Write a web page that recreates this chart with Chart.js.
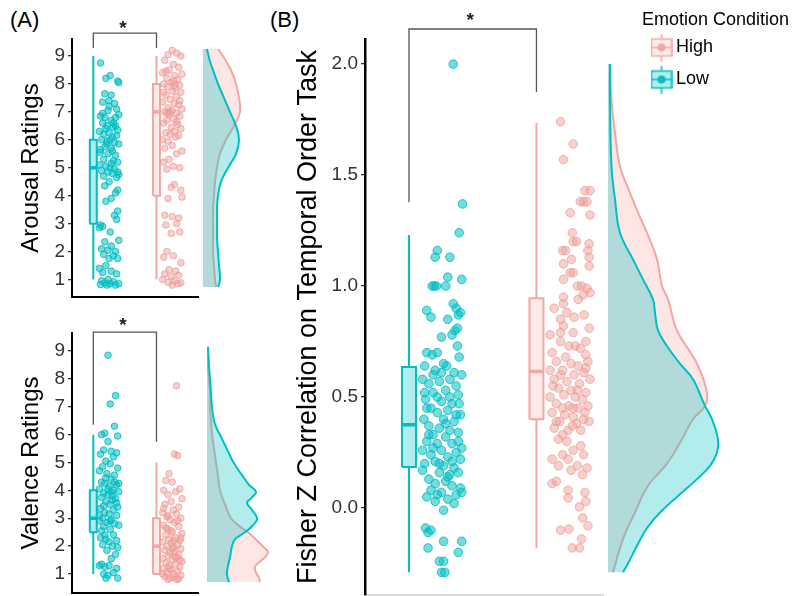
<!DOCTYPE html>
<html>
<head>
<meta charset="utf-8">
<script src="https://cdn.jsdelivr.net/npm/chart.js@4.4.1/dist/chart.umd.min.js"></script>
<style>
  body { margin: 0; background: #fff; width: 811px; height: 596px; position: relative; overflow: hidden;
         font-family: "Liberation Sans", Arial, sans-serif; }
  canvas { position: absolute; }
  .lab { position: absolute; font-size: 22px; line-height: 22px; color: #000; }
</style>
</head>
<body>
<div class="lab" style="left:10px; top:9px">(A)</div>
<div class="lab" style="left:270px; top:9px">(B)</div>
<canvas id="arousal" width="200" height="300" style="left:0; top:0"></canvas>
<canvas id="arousalDens" width="60" height="300" style="left:203px; top:0"></canvas>
<canvas id="valence" width="200" height="296" style="left:0; top:300px"></canvas>
<canvas id="valenceDens" width="70" height="296" style="left:207px; top:300px"></canvas>
<canvas id="fisher" width="335" height="596" style="left:270px; top:0"></canvas>
<canvas id="fisherDens" width="130" height="596" style="left:608px; top:0"></canvas>
<canvas id="legend" width="171" height="130" style="left:640px; top:0"></canvas>
<script>
const groups = ["Low", "High"];
const legendLabels = ["High", "Low"];

const ratingTicks = [1, 2, 3, 4, 5, 6, 7, 8, 9];
const fisherTicks = [0, 0.5, 1.0, 1.5, 2.0];

// box stats: min, q1, median, q3, max
const arousalBoxLow = [1, 3, 5, 6, 9];
const arousalBoxHigh = [1, 4, 7, 8, 9];
const valenceBoxLow = [1, 2.5, 3, 4, 6];
const valenceBoxHigh = [1, 1, 2, 3, 5];
const fisherBoxLow = [-0.29, 0.185, 0.375, 0.635, 1.23];
const fisherBoxHigh = [-0.18, 0.40, 0.615, 0.945, 1.735];

// significance brackets: bar level, left foot, right foot, star level
const arousalSig = [9.82, 9.285, 9.285, 9.97];
const valenceSig = [9.68, 6.35, 5.74, 9.9];
const fisherSig = [2.158, 1.378, 1.874, 2.194];

// jittered points: [jitter 0..1, value]
const arousalLow = [[0.1,8.75],[0.55,8.3],[0.9,8.1],[0.95,8.05],[0.35,8.2],[0.3,7.65],[0.6,7.6],[0.2,7.35],[0.5,7.4],[0.75,7.3],
  [0.45,7.05],[0.85,7.1],[0.95,6.9],[0.1,6.85],[0.3,6.8],[0.6,6.7],[0.8,6.8],[0.2,6.6],[0.4,6.5],[0.7,6.45],[0.9,6.35],[0.05,6.3],
  [0.25,6.2],[0.5,6.25],[0.65,6.1],[0.85,6.15],[0.15,6.0],[0.4,5.95],[0.55,6.0],[0.75,5.9],[0.95,5.85],[0.3,5.75],[0.6,5.7],[0.1,5.55],
  [0.45,5.5],[0.8,5.45],[0.25,5.3],[0.7,5.25],[0.9,5.2],[0.05,5.1],[0.35,5.05],[0.55,5.0],[0.75,4.95],[0.15,4.9],[0.45,4.85],[0.65,4.8],
  [0.95,4.75],[0.25,4.7],[0.85,4.65],[0.5,4.5],[0.3,4.35],[0.9,4.2],[0.8,4.1],[0.6,3.9],[0.35,3.8],[0.9,3.45],[0.75,3.3],[0.85,3.15],
  [0.1,2.95],[0.05,2.85],[0.2,2.9],[0.55,2.7],[0.95,2.4],[0.3,2.35],[0.6,2.2],[0.15,2.1],[0.45,2.05],[0.8,2.0],[0.25,1.9],[0.7,1.85],
  [0.5,1.75],[0.9,1.75],[0.35,1.5],[0.05,1.4],[0.6,1.3],[0.2,1.25],[0.85,1.2],[0.45,1.0],[0.15,0.95],[0.7,0.92],[0.3,0.88],[0.95,0.85],
  [0.55,0.85],[0.1,0.82],[0.8,0.8],[0.4,0.8],[0.2,6.95],[0.7,6.6],[0.4,5.85],[0.6,5.15],[0.1,5.65],[0.8,6.5],[0.5,7.2],[0.35,6.4],
  [0.65,5.6],[0.9,4.85]];
const arousalHigh = [[0.5,9.2],[0.7,9.1],[0.3,9.05],[0.9,9.0],[0.15,8.85],[0.55,8.7],[0.8,8.6],[0.35,8.5],[0.05,8.4],[0.95,8.35],
  [0.6,8.3],[0.25,8.2],[0.75,8.15],[0.45,8.05],[0.1,8.0],[0.85,7.95],[0.3,7.9],[0.65,7.85],[0.5,7.75],[0.9,7.7],[0.2,7.6],[0.7,7.55],
  [0.4,7.45],[0.05,7.35],[0.6,7.3],[0.8,7.25],[0.3,7.15],[0.95,7.1],[0.5,7.05],[0.15,7.0],[0.7,6.95],[0.35,6.9],[0.85,6.85],[0.55,6.75],
  [0.25,6.7],[0.1,6.6],[0.75,6.55],[0.45,6.45],[0.9,6.4],[0.6,6.3],[0.2,6.25],[0.4,6.2],[0.8,6.15],[0.65,6.1],[0.05,6.0],[0.3,5.95],
  [0.5,5.8],[0.15,5.7],[0.95,5.6],[0.7,5.5],[0.35,5.3],[0.1,5.2],[0.55,5.05],[0.85,5.0],[0.25,4.95],[0.6,4.4],[0.45,4.3],[0.9,4.2],
  [0.95,3.95],[0.3,3.9],[0.15,3.3],[0.5,3.25],[0.8,3.2],[0.7,3.0],[0.2,2.95],[0.85,2.7],[0.45,2.65],[0.25,2.0],[0.55,1.85],[0.1,1.8],
  [0.9,1.6],[0.35,1.35],[0.65,1.3],[0.15,1.2],[0.8,1.15],[0.45,1.1],[0.05,1.0],[0.6,0.95],[0.3,0.9],[0.9,0.88],[0.5,0.8],[0.75,0.85],
  [0.2,8.45],[0.6,7.95],[0.85,7.4],[0.4,7.0],[0.1,7.7],[0.7,6.65],[0.55,8.1],[0.25,6.95]];
const valenceLow = [[0.45,8.85],[0.8,7.4],[0.55,7.1],[0.75,6.3],[0.3,6.05],[0.15,6.0],[0.9,5.95],[0.45,5.75],[0.25,5.45],[0.6,5.4],
  [0.85,5.35],[0.1,5.3],[0.7,5.2],[0.35,5.05],[0.55,4.95],[0.2,4.85],[0.9,4.8],[0.05,4.7],[0.4,4.6],[0.75,4.55],[0.6,4.4],[0.15,4.3],
  [0.3,4.25],[0.85,4.2],[0.5,4.15],[0.05,4.05],[0.7,4.0],[0.95,3.95],[0.25,3.9],[0.45,3.85],[0.65,3.8],[0.15,3.75],[0.8,3.7],[0.35,3.6],
  [0.55,3.5],[0.9,3.4],[0.1,3.35],[0.7,3.3],[0.3,3.2],[0.5,3.15],[0.85,3.1],[0.2,3.0],[0.6,2.95],[0.05,2.9],[0.4,2.85],[0.75,2.8],
  [0.95,2.75],[0.25,2.7],[0.55,2.6],[0.1,2.3],[0.7,2.4],[0.35,2.25],[0.85,2.2],[0.5,2.15],[0.2,2.05],[0.65,2.0],[0.9,1.95],[0.4,1.85],
  [0.8,1.7],[0.6,1.55],[0.15,1.35],[0.05,1.3],[0.3,1.25],[0.5,1.3],[0.85,1.2],[0.7,1.05],[0.25,1.0],[0.45,0.95],[0.9,0.85],[0.35,0.85],
  [0.65,3.65],[0.45,4.05],[0.25,3.45],[0.75,4.3],[0.55,2.9],[0.15,2.55],[0.35,4.45],[0.85,3.55],[0.05,3.1],[0.6,3.95],[0.95,4.25],[0.3,2.4]];
const valenceHigh = [[0.7,7.75],[0.6,5.3],[0.75,5.25],[0.35,4.6],[0.2,4.35],[0.5,4.3],[0.85,4.05],[0.1,4.0],[0.65,3.95],[0.3,3.85],
  [0.95,3.7],[0.45,3.6],[0.15,3.5],[0.8,3.4],[0.55,3.3],[0.05,3.2],[0.7,3.15],[0.25,3.05],[0.9,3.0],[0.4,2.95],[0.6,2.85],[0.1,2.75],
  [0.8,2.7],[0.3,2.6],[0.5,2.5],[0.95,2.45],[0.2,2.4],[0.65,2.3],[0.35,2.25],[0.85,2.2],[0.05,2.15],[0.45,2.1],[0.75,2.05],[0.25,2.0],
  [0.55,1.95],[0.9,1.9],[0.15,1.85],[0.6,1.8],[0.4,1.75],[0.8,1.7],[0.3,1.65],[0.7,1.6],[0.05,1.55],[0.5,1.5],[0.95,1.45],[0.2,1.4],
  [0.65,1.35],[0.35,1.3],[0.85,1.25],[0.1,1.2],[0.45,1.15],[0.75,1.1],[0.25,1.05],[0.55,1.0],[0.9,0.95],[0.15,0.9],[0.6,0.88],[0.4,0.85],
  [0.8,0.82],[0.3,0.8],[0.7,0.8],[0.5,1.9],[0.2,2.65],[0.9,2.3],[0.35,1.2],[0.65,1.6],[0.1,3.35],[0.75,2.9],[0.45,2.55],[0.85,1.5],
  [0.05,1.0],[0.55,2.2],[0.3,3.1]];
const fisherLow = [[0.78,2.0],[1.0,1.37],[0.92,1.24],[0.4,1.16],[0.35,1.13],[0.7,1.13],[0.65,1.04],[0.98,1.03],[0.28,1.0],[0.33,1.0],
  [0.38,1.0],[0.6,1.0],[0.15,0.89],[0.25,0.86],[0.78,0.92],[0.85,0.9],[0.9,0.87],[0.95,0.88],[0.65,0.85],[0.5,0.77],[0.82,0.80],
  [0.88,0.81],[0.75,0.78],[0.15,0.70],[0.28,0.69],[0.4,0.70],[0.88,0.73],[0.92,0.68],[0.1,0.64],[0.35,0.62],[0.55,0.65],[0.62,0.64],
  [0.8,0.61],[0.98,0.60],[0.05,0.58],[0.2,0.56],[0.45,0.57],[0.7,0.58],[0.85,0.55],[0.3,0.52],[0.6,0.53],[0.9,0.51],[0.12,0.49],
  [0.5,0.48],[0.75,0.47],[0.25,0.45],[0.4,0.43],[0.65,0.44],[0.95,0.42],[0.08,0.40],[0.55,0.40],[0.8,0.39],[0.2,0.37],[0.45,0.36],
  [0.7,0.35],[0.9,0.34],[0.3,0.33],[0.6,0.32],[0.15,0.30],[0.4,0.29],[0.75,0.29],[0.98,0.27],[0.05,0.26],[0.5,0.26],[0.85,0.25],
  [0.25,0.24],[0.65,0.23],[0.35,0.21],[0.95,0.22],[0.1,0.20],[0.55,0.19],[0.8,0.18],[0.45,0.16],[0.7,0.15],[0.9,0.16],[0.05,0.17],
  [0.2,0.13],[0.6,0.12],[0.35,0.11],[0.75,0.10],[0.95,0.09],[0.25,0.08],[0.5,0.07],[0.85,0.06],[0.15,0.05],[0.65,0.04],[0.4,0.06],
  [0.98,0.07],[0.8,0.02],[0.55,-0.01],[0.12,-0.09],[0.25,-0.10],[0.18,-0.11],[0.55,-0.15],[0.98,-0.15],[0.18,-0.18],[0.9,-0.20],
  [0.45,-0.24],[0.55,-0.24],[0.5,-0.29],[0.58,-0.29],[0.3,0.6],[0.5,0.61],[0.7,0.5],[0.4,0.5],[0.15,0.45],[0.85,0.42],[0.6,0.38],
  [0.3,0.27],[0.75,0.21],[0.45,0.2],[0.2,0.33],[0.9,0.3],[0.1,0.52],[0.65,0.14],[0.35,0.03],[0.92,0.47]];
const fisherHigh = [[0.3,1.74],[0.6,1.64],[0.37,1.57],[0.88,1.43],[1.0,1.43],[0.77,1.38],[0.85,1.38],[0.93,1.38],[0.53,1.33],
  [1.0,1.32],[0.58,1.24],[0.6,1.2],[0.68,1.2],[0.98,1.19],[0.35,1.16],[0.42,1.16],[0.95,1.16],[0.56,1.12],[0.98,1.13],[0.37,1.10],
  [0.98,1.09],[0.6,1.06],[0.53,1.06],[0.37,1.03],[0.7,1.0],[0.8,1.0],[0.93,0.99],[1.0,0.97],[0.37,0.95],[0.84,0.96],[0.37,0.92],
  [0.72,0.94],[0.86,0.87],[0.3,0.85],[0.37,0.82],[0.3,0.79],[0.6,0.79],[0.98,0.81],[0.5,0.73],[0.65,0.73],[0.77,0.72],[0.3,0.75],
  [0.1,0.70],[0.42,0.68],[0.9,0.69],[0.2,0.66],[0.55,0.65],[0.72,0.64],[0.95,0.66],[0.05,0.62],[0.35,0.62],[0.62,0.6],[0.85,0.61],
  [0.15,0.58],[0.45,0.57],[0.75,0.56],[1.0,0.58],[0.25,0.54],[0.55,0.53],[0.9,0.52],[0.05,0.50],[0.38,0.51],[0.65,0.50],[0.82,0.49],
  [0.2,0.47],[0.5,0.46],[0.72,0.45],[0.95,0.46],[0.1,0.43],[0.4,0.42],[0.6,0.41],[0.85,0.40],[0.28,0.39],[0.68,0.38],[0.98,0.39],
  [0.15,0.36],[0.48,0.35],[0.78,0.35],[0.35,0.33],[0.58,0.37],[0.25,0.31],[0.6,0.26],[0.35,0.24],[0.85,0.24],[0.1,0.22],[0.48,0.22],
  [0.7,0.19],[0.93,0.18],[0.25,0.19],[0.55,0.17],[0.82,0.15],[0.1,0.11],[0.2,0.12],[0.48,0.08],[0.88,0.07],[0.48,0.045],[0.75,0.005],
  [0.9,0.03],[0.83,-0.045],[0.5,-0.095],[0.95,-0.08],[0.3,-0.1],[0.8,-0.14],[0.58,-0.18],[0.75,-0.18],[0.45,0.88],[0.15,0.9],
  [0.9,0.75],[0.62,0.86],[0.3,0.6],[0.7,0.53],[0.12,0.55],[0.88,0.43],[0.45,0.3],[0.35,0.45],[0.6,0.45],[0.2,0.39],[0.78,0.28],
  [0.9,0.63],[0.05,0.78]];

// density curves: [value, relative density]
const arousalDensLow = [[9.25,0.04],[8.8,0.07],[8.5,0.10],[8,0.15],[7.5,0.21],[7,0.27],[6.5,0.33],[6,0.36],[5.5,0.33],[5,0.25],
  [4.5,0.18],[4,0.15],[3.5,0.14],[3,0.14],[2.5,0.14],[2,0.15],[1.5,0.16],[1,0.17],[0.73,0.15]];
const arousalDensHigh = [[9.25,0.15],[9,0.20],[8.5,0.28],[8,0.33],[7.5,0.36],[7,0.37],[6.5,0.31],[6,0.23],[5.5,0.17],[5,0.14],
  [4.5,0.12],[4,0.11],[3.5,0.10],[3,0.10],[2.5,0.10],[2,0.10],[1.5,0.11],[1,0.12],[0.73,0.13]];
const valenceDensLow = [[9.15,0.01],[8.5,0.02],[8,0.03],[7.5,0.04],[7,0.05],[6.5,0.07],[6.2,0.10],[6,0.13],[5.7,0.17],[5.4,0.21],
  [5.1,0.25],[4.8,0.30],[4.5,0.36],[4.2,0.42],[3.95,0.49],[3.75,0.45],[3.55,0.40],[3.35,0.44],[3.1,0.49],[2.95,0.50],[2.75,0.46],
  [2.55,0.40],[2.4,0.34],[2.25,0.28],[2.0,0.25],[1.6,0.23],[1.3,0.21],[1.0,0.20],[0.7,0.22]];
const valenceDensHigh = [[9.15,0.01],[8.5,0.01],[8,0.02],[7.5,0.03],[7,0.03],[6.5,0.04],[6,0.05],[5.5,0.07],[5,0.09],[4.5,0.11],
  [4,0.13],[3.5,0.18],[3.0,0.24],[2.7,0.33],[2.5,0.41],[2.2,0.50],[1.95,0.57],[1.8,0.61],[1.6,0.58],[1.45,0.53],[1.25,0.48],
  [1.05,0.49],[0.85,0.52],[0.7,0.53]];
const fisherDensLow = [[2.0,0.02],[1.84,0.02],[1.54,0.035],[1.39,0.07],[1.24,0.12],[1.12,0.25],[1.03,0.35],[0.94,0.45],[0.88,0.47],
  [0.80,0.50],[0.73,0.59],[0.65,0.72],[0.58,0.85],[0.46,0.97],[0.40,1.04],[0.31,1.10],[0.25,1.09],[0.19,1.02],[0.13,0.89],
  [0.05,0.69],[-0.02,0.52],[-0.09,0.39],[-0.17,0.29],[-0.25,0.20],[-0.29,0.15]];
const fisherDensHigh = [[2.0,0.02],[1.84,0.035],[1.69,0.07],[1.54,0.12],[1.42,0.22],[1.31,0.32],[1.24,0.39],[1.12,0.49],[1.0,0.54],
  [0.94,0.60],[0.80,0.69],[0.65,0.89],[0.52,0.99],[0.46,0.97],[0.40,0.85],[0.31,0.74],[0.20,0.59],[0.10,0.40],[-0.02,0.27],
  [-0.14,0.15],[-0.29,0.05]];

const FONT = "'Liberation Sans', Arial, sans-serif";
const styles = {
  Low:  { line: "#00BFC4", boxFill: "rgba(0,191,196,0.3)", pt: "rgba(0,191,196,0.55)", ptEdge: "rgba(0,185,190,0.8)",
          dFill: "rgba(0,191,196,0.3)" },
  High: { line: "rgb(241,168,163)", boxFill: "rgba(248,118,109,0.15)", pt: "rgba(240,160,155,0.5)", ptEdge: "rgba(235,150,145,0.65)",
          dFill: "rgba(248,118,109,0.18)" }
};
const HW = 0.055; // half box width

const starPlugin = {
  id: "sigStar",
  afterDatasetsDraw(chart, args, opts) {
    const { ctx, scales } = chart;
    ctx.save();
    ctx.font = "bold 19px " + FONT;
    ctx.fillStyle = "#222";
    ctx.textAlign = "center";
    ctx.textBaseline = "middle";
    ctx.fillText("*", scales.x.getPixelForValue(opts.x), scales.y.getPixelForValue(opts.y));
    ctx.restore();
  }
};

function mainChart(id, o) {
  const ds = [];
  groups.forEach((g, i) => {
    const p = i + 1, s = o.boxes[i], c = styles[g];
    ds.push({ type: "line", data: [{x: p, y: s[0]}, {x: p, y: s[1]}, {x: p, y: null}, {x: p, y: s[3]}, {x: p, y: s[4]}],
      borderColor: c.line, borderWidth: 2, pointRadius: 0, spanGaps: false, order: 6 });
    ds.push({ type: "line", data: [{x: p - HW, y: s[3]}, {x: p + HW, y: s[3]}], fill: {value: s[1]},
      backgroundColor: c.boxFill, borderWidth: 0, pointRadius: 0, order: 7 });
    ds.push({ type: "line", data: [{x: p - HW, y: s[1]}, {x: p + HW, y: s[1]}, {x: p + HW, y: s[3]}, {x: p - HW, y: s[3]}, {x: p - HW, y: s[1]}],
      borderColor: c.line, borderWidth: 2, pointRadius: 0, order: 5 });
    ds.push({ type: "line", data: [{x: p - HW, y: s[2]}, {x: p + HW, y: s[2]}],
      borderColor: c.line, borderWidth: 3.5, pointRadius: 0, order: 5 });
    ds.push({ type: "scatter", data: o.points[i].map(([j, v]) => ({x: p + o.jit[0] + j * o.jit[1], y: v})),
      pointRadius: o.r, backgroundColor: c.pt, borderColor: c.ptEdge, borderWidth: 1, order: 1 });
  });
  ds.push({ type: "line", data: [{x: 1, y: o.sig[1]}, {x: 1, y: o.sig[0]}, {x: 2, y: o.sig[0]}, {x: 2, y: o.sig[2]}],
    borderColor: "#555", borderWidth: 1.3, pointRadius: 0, clip: false, order: 0 });

  return new Chart(document.getElementById(id), {
    type: "scatter",
    data: { datasets: ds },
    options: {
      responsive: false, animation: false, events: [],
      layout: { padding: o.pad, autoPadding: false },
      plugins: { legend: { display: false }, tooltip: { enabled: false }, sigStar: { x: o.starX, y: o.sig[3] } },
      scales: {
        x: { type: "linear", min: o.x[0], max: o.x[1],
             ticks: { display: false }, grid: { display: false, drawTicks: false },
             border: { display: true, color: o.xAxisColor, width: 2 },
             afterFit: s => { s.height = 0; } },
        y: { type: "linear", min: o.y[0], max: o.y[1],
             afterBuildTicks: s => { s.ticks = o.ticks.map(v => ({ value: v })); },
             afterFit: s => { s.width = o.axisW; s.paddingTop = 0; s.paddingBottom = 0; },
             ticks: { autoSkip: false, color: "#333", padding: 3, font: { family: FONT, size: o.tickSize }, callback: o.fmt },
             grid: { display: true, drawOnChartArea: false, drawTicks: true, tickLength: 4, color: "#333", lineWidth: 1.3 },
             border: { display: true, color: "#000", width: o.yBorder },
             title: { display: true, text: o.title, color: "#000", font: { family: FONT, size: o.titleSize },
                      padding: { top: o.titlePad, bottom: 0 } } }
      }
    },
    plugins: [starPlugin]
  });
}

function densityChart(id, o) {
  const ds = groups.map((g, i) => ({
    type: "line", indexAxis: "y",
    data: o.dens[i].map(([v, d]) => ({ x: d, y: v })),
    fill: "origin", backgroundColor: styles[g].dFill, borderColor: styles[g].line,
    borderWidth: 2, pointRadius: 0, tension: 0.4, order: i === 0 ? 1 : 2
  }));
  return new Chart(document.getElementById(id), {
    type: "scatter",
    data: { datasets: ds },
    options: {
      responsive: false, animation: false, events: [],
      layout: { padding: o.pad, autoPadding: false },
      plugins: { legend: { display: false }, tooltip: { enabled: false } },
      scales: {
        x: { type: "linear", display: false, min: 0, max: o.xmax },
        y: { type: "linear", display: false, min: o.y[0], max: o.y[1] }
      }
    }
  });
}

const intFmt = v => String(v);
const oneDec = v => v.toFixed(1);

const arousalY = [0.374, 9.608];
const valenceY = [0.318, 9.646];
const fisherY = [-0.392, 2.113];

mainChart("arousal", {
  boxes: [arousalBoxLow, arousalBoxHigh], points: [arousalLow, arousalHigh], sig: arousalSig, starX: 1.47,
  jit: [0.08, 0.34], r: 3.3, x: [0.663, 2.657], y: arousalY, ticks: ratingTicks, fmt: intFmt,
  pad: { top: 39, bottom: 3, right: 2, left: 0 }, axisW: 72, tickSize: 19, title: "Arousal Ratings", titleSize: 24,
  titlePad: 17, yBorder: 2, xAxisColor: "#000"
});
densityChart("arousalDens", { dens: [arousalDensLow, arousalDensHigh], xmax: 0.6, y: arousalY,
  pad: { top: 39, bottom: 3, left: 0, right: 0 } });

mainChart("valence", {
  boxes: [valenceBoxLow, valenceBoxHigh], points: [valenceLow, valenceHigh], sig: valenceSig, starX: 1.47,
  jit: [0.08, 0.34], r: 3.3, x: [0.663, 2.657], y: valenceY, ticks: ratingTicks, fmt: intFmt,
  pad: { top: 33, bottom: 3, right: 2, left: 0 }, axisW: 72, tickSize: 19, title: "Valence Ratings", titleSize: 24,
  titlePad: 17, yBorder: 2, xAxisColor: "#000"
});
densityChart("valenceDens", { dens: [valenceDensLow, valenceDensHigh], xmax: 0.7, y: valenceY,
  pad: { top: 33, bottom: 3, left: 0, right: 0 } });

mainChart("fisher", {
  boxes: [fisherBoxLow, fisherBoxHigh], points: [fisherLow, fisherHigh], sig: fisherSig, starX: 1.48,
  jit: [0.09, 0.33], r: 4.3, x: [0.655, 2.522], y: fisherY, ticks: fisherTicks, fmt: oneDec,
  pad: { top: 39, bottom: 1, right: 2, left: 0 }, axisW: 95, tickSize: 19,
  title: "Fisher Z Correlation on Temporal Order Task", titleSize: 27, titlePad: 22, yBorder: 2.5, xAxisColor: "#d9d9d9"
});
densityChart("fisherDens", { dens: [fisherDensLow, fisherDensHigh], xmax: 1.3, y: fisherY,
  pad: { top: 39, bottom: 1, left: 0, right: 0 } });

// legend glyphs (little box plots)
function legendIcon(g) {
  const c = document.createElement("canvas");
  c.width = 22; c.height = 28;
  const x = c.getContext("2d"), s = styles[g];
  x.strokeStyle = s.line; x.lineWidth = 1.5;
  x.beginPath(); x.moveTo(11, 0); x.lineTo(11, 28); x.stroke();
  x.fillStyle = "#fff"; x.fillRect(1, 5.5, 20, 17);
  x.fillStyle = s.boxFill; x.fillRect(1, 5.5, 20, 17);
  x.strokeRect(1, 5.5, 20, 17);
  x.beginPath(); x.moveTo(1, 14); x.lineTo(21, 14); x.stroke();
  x.fillStyle = s.line; x.beginPath(); x.arc(11, 14, 4, 0, Math.PI * 2); x.fill();
  return c;
}

new Chart(document.getElementById("legend"), {
  type: "scatter",
  data: { datasets: [] },
  options: {
    responsive: false, animation: false, events: [],
    layout: { padding: { left: 2, top: 0 }, autoPadding: false },
    scales: { x: { display: false }, y: { display: false } },
    plugins: {
      tooltip: { enabled: false },
      title: { display: true, text: "Emotion Condition", align: "start", color: "#000",
               font: { family: FONT, size: 18, weight: "normal", lineHeight: 0.5 }, padding: { top: 15.5, bottom: 0 } },
      legend: {
        display: true, position: "left", align: "start", fullSize: false,
        labels: {
          usePointStyle: true, pointStyleWidth: 11, padding: 14, color: "#000", font: { family: FONT, size: 18 },
          generateLabels: () => legendLabels.map((t, i) => ({
            text: t, pointStyle: legendIcon(t), fillStyle: "transparent", strokeStyle: "transparent",
            lineWidth: 0, hidden: false, datasetIndex: i, fontColor: "#000"
          }))
        }
      }
    }
  }
});
</script>
</body>
</html>
